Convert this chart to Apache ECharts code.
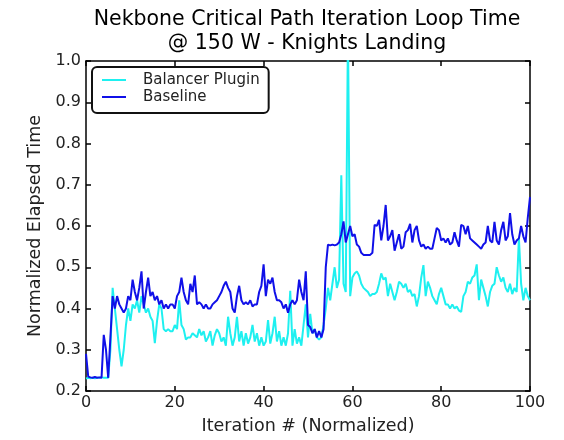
<!DOCTYPE html>
<html><head><meta charset="utf-8">
<script src="https://cdn.jsdelivr.net/npm/echarts@6/dist/echarts.min.js"></script>
<style>html,body{margin:0;padding:0;background:#fff}#c{width:564px;height:440px}</style>
</head><body><div id="c"></div>
<script>
const title = "Nekbone Critical Path Iteration Loop Time\n@ 150 W - Knights Landing";
const xLabel = "Iteration # (Normalized)";
const yLabel = "Normalized Elapsed Time";
const seriesNames = ["Balancer Plugin", "Baseline"];
const iterationStep = 0.5;
const balancer = [
0.23,0.232,0.231,0.232,0.231,0.232,0.232,0.233,0.232,0.232,
0.232,0.30,0.45,0.40,0.35,0.30,0.26,0.30,0.36,0.40,
0.37,0.41,0.40,0.42,0.39,0.43,0.41,0.39,0.40,0.38,
0.37,0.316,0.37,0.41,0.40,0.35,0.345,0.35,0.345,0.345,
0.36,0.35,0.42,0.36,0.35,0.325,0.33,0.33,0.34,0.335,
0.33,0.35,0.335,0.345,0.32,0.33,0.345,0.31,0.335,0.35,
0.34,0.32,0.33,0.31,0.38,0.34,0.31,0.33,0.38,0.32,
0.345,0.31,0.34,0.315,0.33,0.36,0.32,0.34,0.31,0.33,
0.31,0.32,0.372,0.315,0.34,0.38,0.32,0.345,0.31,0.33,
0.31,0.34,0.443,0.31,0.35,0.315,0.33,0.31,0.36,0.41,
0.33,0.387,0.34,0.35,0.33,0.325,0.33,0.36,0.40,0.45,
0.42,0.46,0.50,0.45,0.47,0.723,0.46,0.44,1.08,0.43,
0.475,0.485,0.49,0.48,0.46,0.45,0.445,0.44,0.43,0.435,
0.435,0.44,0.46,0.485,0.47,0.475,0.43,0.46,0.44,0.42,
0.44,0.465,0.46,0.45,0.46,0.44,0.445,0.43,0.435,0.405,
0.43,0.475,0.505,0.43,0.465,0.45,0.43,0.42,0.41,0.435,
0.45,0.43,0.41,0.41,0.40,0.41,0.40,0.405,0.395,0.392,
0.43,0.44,0.465,0.46,0.475,0.48,0.507,0.42,0.47,0.45,
0.43,0.405,0.44,0.455,0.46,0.50,0.48,0.465,0.475,0.45,
0.44,0.46,0.435,0.45,0.44,0.571,0.46,0.42,0.45,0.43,
0.42];
const baseline = [
0.29,0.235,0.233,0.232,0.234,0.232,0.233,0.232,0.336,0.30,
0.232,0.33,0.43,0.40,0.43,0.41,0.40,0.39,0.40,0.43,
0.42,0.47,0.44,0.42,0.45,0.49,0.40,0.44,0.475,0.43,
0.44,0.42,0.43,0.41,0.42,0.40,0.41,0.40,0.41,0.41,
0.40,0.43,0.44,0.475,0.44,0.42,0.41,0.46,0.44,0.48,
0.41,0.415,0.41,0.40,0.41,0.40,0.40,0.41,0.415,0.42,
0.43,0.44,0.455,0.465,0.45,0.44,0.40,0.39,0.43,0.455,
0.42,0.41,0.415,0.41,0.42,0.405,0.41,0.41,0.44,0.455,
0.507,0.43,0.47,0.46,0.475,0.44,0.42,0.42,0.415,0.40,
0.41,0.39,0.41,0.42,0.41,0.42,0.47,0.44,0.42,0.49,
0.36,0.355,0.34,0.35,0.33,0.345,0.33,0.35,0.50,0.555,
0.553,0.555,0.553,0.555,0.56,0.58,0.611,0.56,0.58,0.60,
0.575,0.58,0.555,0.55,0.535,0.53,0.53,0.53,0.53,0.535,
0.603,0.60,0.615,0.565,0.60,0.651,0.565,0.575,0.59,0.54,
0.56,0.58,0.545,0.55,0.585,0.59,0.605,0.56,0.59,0.60,
0.565,0.55,0.555,0.545,0.55,0.545,0.545,0.57,0.595,0.59,
0.565,0.57,0.56,0.57,0.555,0.56,0.585,0.565,0.55,0.603,
0.60,0.58,0.60,0.57,0.565,0.56,0.555,0.55,0.545,0.555,
0.56,0.60,0.565,0.56,0.61,0.565,0.555,0.59,0.61,0.565,
0.575,0.631,0.58,0.555,0.565,0.57,0.60,0.575,0.56,0.62,
0.67];
const xTicks = {min: 0, max: 100, interval: 20};
const yTicks = {min: 0.2, max: 1.0, interval: 0.1};

const FONT = "DejaVu Sans";
const pairs = arr => arr.map((v, i) => [i * iterationStep, v]);
const chart = echarts.init(document.getElementById('c'), null, {renderer: 'canvas'});
const axisCommon = {
  axisLine: {show: true, onZero: false, lineStyle: {color: '#000', width: 1.5}},
  axisTick: {show: true, inside: true, length: 5, lineStyle: {color: '#000', width: 1.5}},
  splitLine: {show: false}
};
chart.setOption({
  animation: false,
  backgroundColor: '#fff',
  title: {text: title, left: 302, textAlign: 'center', top: 3,
    textStyle: {fontFamily: FONT, fontSize: 20.5, fontWeight: 'normal', color: '#000', lineHeight: 24}},
  grid: {left: 86, right: 34, top: 61, bottom: 45},
  legend: {
    data: seriesNames, orient: 'vertical', left: 92, top: 67,
    itemWidth: 24, itemHeight: 12, itemGap: 1,
    icon: 'path://M0,5 L24,5 L24,7 L0,7 Z',
    borderColor: '#111', borderWidth: 2, borderRadius: 5,
    padding: [5, 9, 8, 10],
    textStyle: {fontFamily: FONT, fontSize: 15, color: '#222', lineHeight: 16, padding: [0, 0, 0, 12]}
  },
  xAxis: [
    Object.assign({type: 'value', min: xTicks.min, max: xTicks.max, interval: xTicks.interval,
      name: xLabel, nameLocation: 'middle', nameGap: 26,
      nameTextStyle: {fontFamily: FONT, fontSize: 17.5, color: '#222'},
      axisLabel: {fontFamily: FONT, fontSize: 16, color: '#222', margin: 4}}, axisCommon),
    Object.assign({type: 'value', position: 'top', min: xTicks.min, max: xTicks.max, interval: xTicks.interval,
      axisLabel: {show: false}}, axisCommon)
  ],
  yAxis: [
    Object.assign({type: 'value', min: yTicks.min, max: yTicks.max, interval: yTicks.interval,
      name: yLabel, nameLocation: 'middle', nameGap: 39,
      nameTextStyle: {fontFamily: FONT, fontSize: 17.5, color: '#222'},
      axisLabel: {fontFamily: FONT, fontSize: 16, color: '#222', margin: 5, formatter: v => v.toFixed(1)}}, axisCommon),
    Object.assign({type: 'value', position: 'right', min: yTicks.min, max: yTicks.max, interval: yTicks.interval,
      axisLabel: {show: false}}, axisCommon)
  ],
  series: [
    {name: seriesNames[0], type: 'line', data: pairs(balancer), showSymbol: false, symbol: 'none',
      clip: true, lineStyle: {color: '#1ef0f0', width: 2}, itemStyle: {color: '#1ef0f0'}, z: 2},
    {name: seriesNames[1], type: 'line', data: pairs(baseline), showSymbol: false, symbol: 'none',
      clip: true, lineStyle: {color: '#1010e8', width: 2}, itemStyle: {color: '#1010e8'}, z: 3}
  ]
});
</script></body></html>
